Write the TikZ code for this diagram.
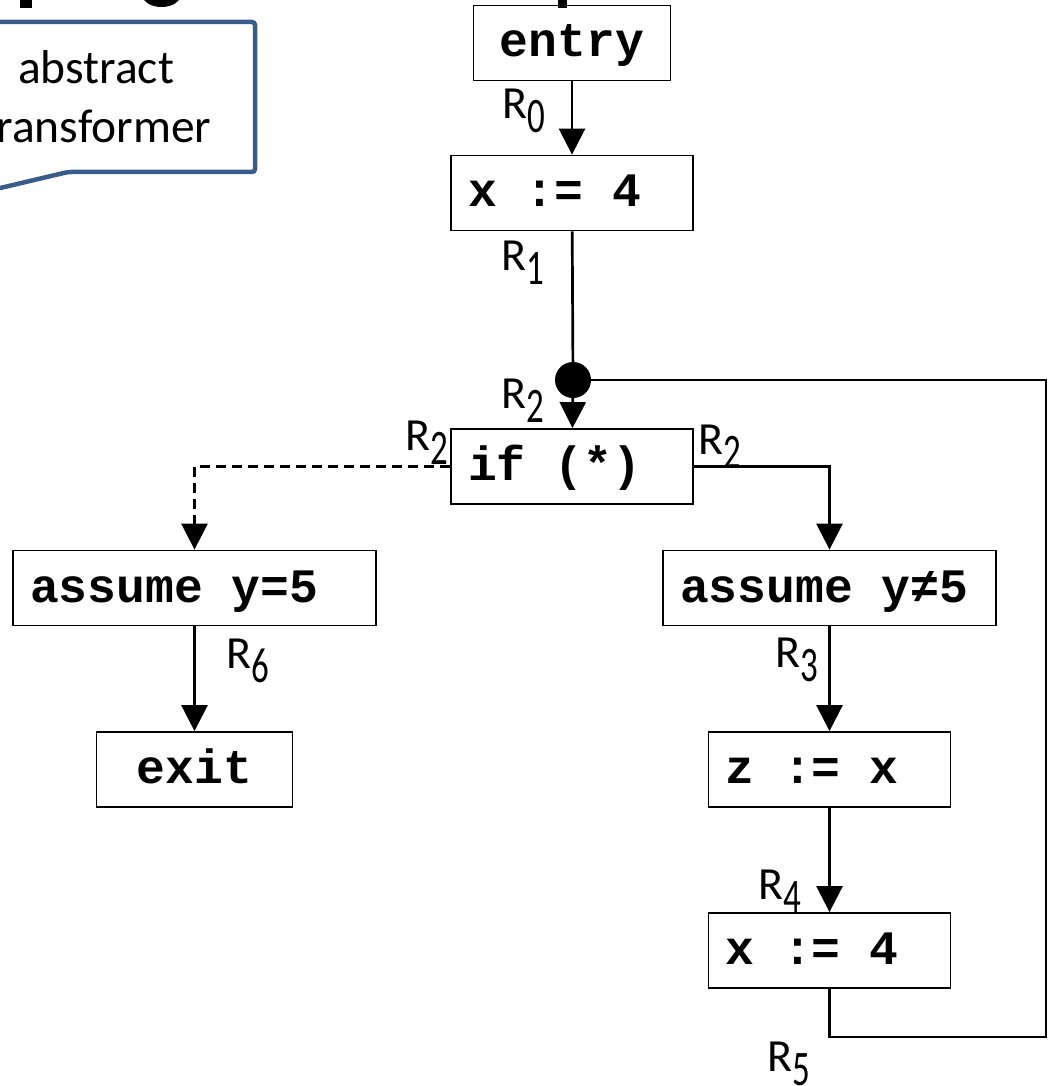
\documentclass[tikz,border=0pt]{standalone}
\usepackage{fontspec}
\setmainfont{Carlito}
\newfontfamily\codefont{Liberation Mono}
\usetikzlibrary{arrows.meta}
\definecolor{callblue}{RGB}{56,93,138}

% region label: R with a lowered, narrowed index digit
\newcommand{\Rsub}[1]{R\raisebox{-14pt}{\scalebox{0.76}[1.08]{#1}}}

\begin{document}
\begin{tikzpicture}[x=1pt,y=-1pt,
  box/.style={draw, line width=1.8pt, minimum height=75pt, inner ysep=0pt,
    font=\codefont\bfseries\fontsize{48}{48}\selectfont,
    text height=28pt, text depth=0pt},
  lbox/.style={box, align=flush left, inner xsep=17pt, text width=#1},
  cbox/.style={box, minimum width=#1},
  conn/.style={line width=2.7pt},
  arr/.style={conn, -{Triangle[length=26pt,width=26pt]}},
  dashconn/.style={arr, dash pattern=on 10pt off 6pt},
  lab/.style={anchor=base west, inner sep=0pt, font=\fontsize{46}{46}\selectfont},
  junction/.style={circle, fill, inner sep=0pt, minimum size=36pt},
]
\useasboundingbox (0,0) rectangle (1051,1086);
\clip (0,0) rectangle (1051,1086);

% descenders of the heading above
\fill (20,-2) rectangle (32,8);
\draw[line width=9pt] (145,-8) .. controls (147,6) and (176,6) .. (178,-8);
\fill (558,-2) rectangle (567,8);

% callout
\draw[callblue, line width=4.5pt, rounded corners=3pt, fill=white]
  (-120,22) -- (255,22) -- (255,172) -- (68,172) -- (-220,240);
\node[align=center, inner sep=0pt, font=\fontsize{47.5}{59}\selectfont]
  (callouttext) at (96,97) {abstract\\transformer};

% statements
\node[cbox=197pt] (entry) at (572,43) {entry};
\node[lbox=208pt] (xa) at (572,193) {x := 4};
\node[junction] (dot) at (573,380) {};
\node[lbox=208pt] (if) at (572,466.5) {if (*)};
\node[lbox=329pt] (ay) at (194.5,588) {assume y=5};
\node[cbox=196pt] (exit) at (194.5,769.5) {exit};
\node[lbox=299pt] (ny) at (829.5,588) {assume y≠5};
\node[lbox=208pt] (zx) at (829.5,769.5) {z := x};
\node[lbox=208pt] (xb) at (829.5,950.5) {x := 4};
\coordinate (loopcorner) at (1046,1037);

% control flow
\draw[arr] (entry) -- (xa);
\draw[conn] (xa) -- (dot);
\draw[arr] (dot) -- (if);
\draw[dashconn] (if.west) -| (ay.north);
\draw[arr] (if.east) -| (ny.north);
\draw[arr] (ay) -- (exit);
\draw[arr] (ny) -- (zx);
\draw[arr] (zx) -- (xb);
\draw[conn] (xb.south) |- (loopcorner) |- (dot);

% abstract states
\node[lab] (r0) at (502,119) {\Rsub{0}};
\node[lab] (r1) at (501,270) {\Rsub{1}};
\node[lab] (r2a) at (501,408) {\Rsub{2}};
\node[lab] (r2b) at (405,450) {\Rsub{2}};
\node[lab] (r2c) at (698,454) {\Rsub{2}};
\node[lab] (r6) at (226,668) {\Rsub{6}};
\node[lab] (r3) at (775,667) {\Rsub{3}};
\node[lab] (r4) at (758,899) {\Rsub{4}};
\node[lab] (r5) at (767,1071) {\Rsub{5}};
\end{tikzpicture}
\end{document}
